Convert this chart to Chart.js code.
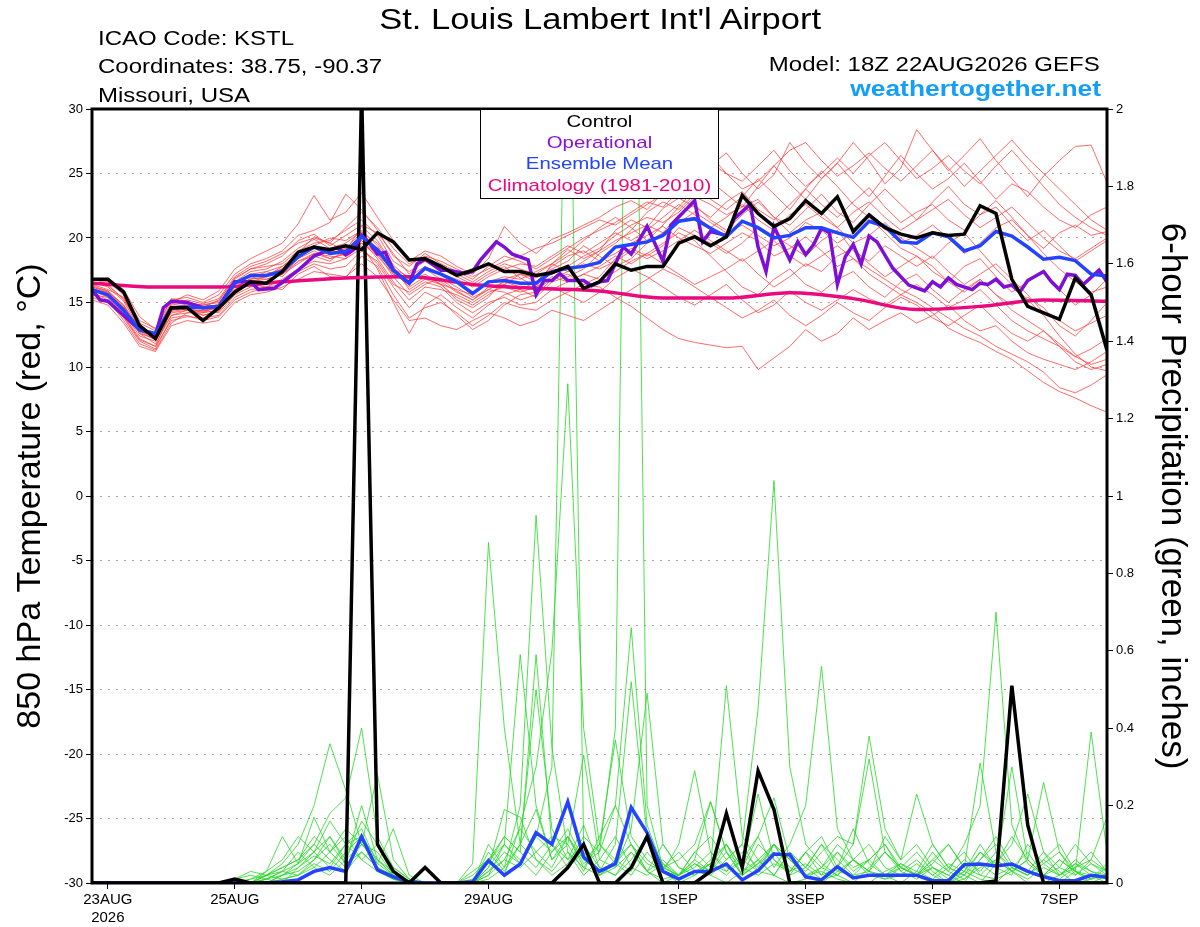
<html>
<head>
<meta charset="utf8">
<title>KSTL GEFS meteogram</title>
<script src="https://cdn.jsdelivr.net/npm/chart.js@4.4.1/dist/chart.umd.min.js"></script>
<style>
body{margin:0;background:#fff;font-family:'Liberation Sans',Arial,sans-serif}
#wrap{position:relative;width:1200px;height:927px;overflow:hidden}
#meteo{position:absolute;left:0;top:0}
.txt{position:absolute;white-space:nowrap;line-height:1;color:#000}
.left{transform-origin:0 0;transform:scaleX(1.2)}
.right{transform-origin:100% 0;transform:scaleX(1.2);text-align:right}
#legend{position:absolute;left:480px;top:109px;width:237px;height:88px;background:#fff;border:1.5px solid #000;z-index:2}
#legend div{position:absolute;left:0;width:237px;text-align:center;font-size:17px;line-height:17px;transform:scaleX(1.2)}
</style>
</head>
<body>
<div id="wrap">
  <canvas id="meteo" width="1200" height="927"></canvas>
  <div class="txt" style="left:0;width:1200px;top:4px;text-align:center;font-size:30px"><span style="display:inline-block;transform:scaleX(1.15)">St. Louis Lambert Int'l Airport</span></div>
  <div class="txt left" style="left:98px;top:28px;font-size:20px">ICAO Code: KSTL</div>
  <div class="txt left" style="left:98px;top:56px;font-size:20px">Coordinates: 38.75, -90.37</div>
  <div class="txt left" style="left:98px;top:85px;font-size:20px">Missouri, USA</div>
  <div class="txt right" style="right:100px;top:54px;font-size:20px">Model: 18Z 22AUG2026 GEFS</div>
  <div class="txt right" style="right:99px;top:78px;font-size:22px;font-weight:bold;color:#149ff5">weathertogether.net</div>
  <div id="legend">
    <div style="top:3px;color:#000">Control</div>
    <div style="top:24px;color:#8a12d8">Operational</div>
    <div style="top:45px;color:#2443ff">Ensemble Mean</div>
    <div style="top:67px;color:#e8097e">Climatology (1981-2010)</div>
  </div>
</div>
<script>
// x axis = forecast hour from 18Z 22AUG (6-hourly steps unless said otherwise)
var tickHours = [6, 54, 102, 150, 222, 270, 318, 366];
var tickLabels = [['23AUG', '2026'], '25AUG', '27AUG', '29AUG', '1SEP', '3SEP', '5SEP', '7SEP'];

// 850 hPa temperature, deg C
var ctrlTemp = [16.8,16.8,15.8,13.2,12.2,14.6,14.6,13.6,14.6,15.8,16.6,16.5,17.4,
  18.9,19.3,19.1,19.4,19.1,20.4,19.7,18.3,18.4,17.8,17.1,17.5,18.0,
  17.4,17.4,17.1,17.3,17.8,16.1,16.6,18.0,17.5,17.8,17.8,19.6,20.1,
  19.4,20.1,23.3,21.9,20.9,21.5,22.9,21.9,23.2,20.5,21.8,20.8,20.3,
  20.0,20.4,20.2,20.3,22.5,21.9,16.8,14.7,14.2,13.7,16.9,15.6,11.3];
var meanTemp = [16.0,15.6,14.4,12.9,12.6,14.6,14.65,14.6,14.7,16.5,17.1,17.1,17.4,
  18.55,19.3,18.8,18.95,20.1,19.1,17.5,16.5,17.65,17.2,16.6,15.7,16.6,
  16.7,16.5,16.5,17.4,17.65,17.8,18.1,19.3,19.5,19.7,20.2,21.3,21.5,
  20.75,20.1,21.3,20.8,20.0,20.2,20.8,20.8,20.4,20.05,21.3,20.9,19.7,
  19.6,20.4,20.1,19.0,19.4,20.5,20.15,19.3,18.35,18.5,18.25,17.2,17.05];
// operational run is 3-hourly, own hour list
var operHours = [0,3,6,12,18,24,27,30,36,42,48,54,60,63,69,78,84,90,93,96,99,102,105,108,111,114,120,123,126,
  132,135,141,144,147,153,156,159,165,168,171,174,177,180,186,189,192,195,201,204,210,216,219,228,231,234,240,
  243,249,252,255,258,264,267,270,273,276,279,282,285,288,291,294,297,303,309,315,318,321,324,327,333,336,339,
  342,345,348,351,354,360,363,366,369,372,375,381,384];
var operTemp = [16.0,15.2,15.1,14.0,12.9,12.5,14.6,15.1,15.0,14.6,14.7,16.6,16.6,16.0,16.1,17.5,18.6,19.1,19.25,18.7,19.1,20.2,19.6,18.75,18.9,17.5,16.5,18.0,18.35,
  17.5,17.5,17.25,17.4,18.3,19.7,19.3,18.75,18.3,15.6,16.7,16.7,17.25,16.7,16.7,16.3,16.6,16.7,19.3,18.75,20.9,18.2,21.0,22.9,19.7,20.5,20.2,
  21.5,22.6,19.3,17.4,20.9,18.3,19.7,18.7,19.5,20.75,20.4,16.4,18.55,19.5,18.0,20.15,19.7,17.65,16.35,15.9,16.6,16.2,16.9,16.4,16.0,16.5,16.4,
  16.8,16.2,16.35,15.8,16.7,17.4,16.6,16.0,17.2,17.1,16.4,17.5,16.6];
// climatology, daily values
var climHours = [0,24,48,72,96,120,144,168,192,216,240,264,288,312,336,360,384];
var climTemp = [16.5,16.2,16.2,16.6,16.9,17.0,16.4,16.1,15.9,15.35,15.35,15.75,15.3,14.45,14.7,15.2,15.1];

var tempM1 = [16.9,16.4,15.2,13.4,12.8,15.0,15.6,15.2,15.9,17.6,18.4,19.0,19.6,
  21.1,23.3,21.4,22.0,23.5,21.6,19.8,18.2,19.0,18.6,17.8,17.2,18.4,
  20.9,19.6,18.8,19.9,20.4,21.0,21.6,22.4,22.9,22.2,23.5,24.8,24.0,
  25.6,26.6,25.0,23.8,24.9,27.4,25.8,24.6,25.8,27.4,26.0,24.2,25.4,
  28.4,26.8,25.2,26.4,27.7,26.0,24.6,23.2,24.8,26.0,27.1,27.2,24.3];
var tempM2 = [15.4,15.0,13.8,12.0,11.4,13.8,14.0,13.6,13.9,15.2,15.8,16.2,16.0,
  17.2,17.8,17.0,16.9,18.6,17.8,15.6,13.8,14.6,15.0,14.2,13.2,14.0,
  15.0,14.6,14.4,15.2,15.8,16.4,16.2,15.4,14.7,13.8,12.9,12.2,11.9,
  11.7,11.5,11.6,9.8,10.7,11.6,12.9,12.0,12.6,13.8,12.9,13.6,14.2,
  13.4,14.0,14.8,13.6,12.8,13.2,12.0,11.1,10.6,10.2,9.8,10.4,11.2];
var tempM3 = [16.2,15.8,14.6,12.6,12.2,14.2,14.4,14.0,14.3,15.9,16.6,17.0,17.8,
  18.8,20.1,19.6,19.0,20.9,19.8,17.9,16.8,17.0,16.4,15.2,14.6,15.4,
  16.8,17.2,16.6,17.8,18.6,19.0,18.2,18.8,19.6,20.2,20.9,20.0,19.4,
  18.8,19.6,20.4,19.8,18.6,19.2,20.1,19.0,17.8,18.4,17.2,16.4,15.6,
  15.0,14.2,13.0,12.4,11.9,11.2,10.6,9.7,8.8,8.1,7.6,7.0,6.5];
var tempM4 = [16.7,16.9,16.0,13.9,12.9,15.3,15.1,14.6,15.2,16.8,17.6,18.0,18.6,
  19.8,20.3,19.4,20.2,21.0,20.4,18.8,17.2,18.4,17.6,17.0,16.4,17.2,
  17.8,16.9,16.2,18.0,19.1,18.4,19.0,20.6,21.4,20.8,22.3,23.1,22.4,
  21.6,22.8,23.6,22.2,21.4,22.6,23.8,22.6,21.6,22.8,23.9,22.4,21.2,
  22.0,22.6,21.4,20.6,21.8,22.9,21.6,20.2,19.2,20.4,21.0,20.2,20.5];
var tempM5 = [15.8,15.2,13.6,11.8,11.3,13.4,14.2,14.2,14.4,15.8,16.4,16.2,16.8,
  17.6,18.2,18.0,18.4,19.2,18.0,16.2,14.6,15.8,15.2,14.0,12.9,13.6,
  14.8,15.6,15.8,16.2,15.6,15.0,15.8,16.9,17.6,17.0,16.2,15.4,14.8,
  15.6,16.4,15.2,14.2,14.8,15.9,15.0,14.4,15.2,16.0,15.3,14.8,15.6,
  16.4,15.6,14.6,15.2,16.0,14.8,13.6,12.8,12.2,11.6,10.4,9.8,10.2];
var tempM6 = [16.4,16.0,15.4,13.2,12.4,14.8,15.0,14.8,15.0,16.6,17.4,17.6,18.2,
  19.2,19.9,19.2,19.6,20.5,19.0,17.2,16.4,17.6,16.8,15.9,15.2,16.2,
  16.4,16.0,16.6,17.2,17.8,18.6,19.2,20.2,21.0,21.6,21.2,22.0,23.2,
  22.6,21.8,22.4,23.0,21.6,21.0,22.2,23.4,22.0,21.2,22.6,23.8,22.6,
  21.4,22.8,24.0,22.6,21.8,22.4,21.0,19.8,20.6,19.4,18.2,19.0,19.8];
var tempM7 = [16.0,15.4,14.2,12.4,12.0,14.0,14.4,14.4,14.6,16.0,16.9,16.8,17.2,
  18.0,18.8,18.6,18.4,19.6,18.8,17.0,15.6,16.4,16.9,16.2,15.4,16.0,
  15.8,15.2,15.6,16.8,17.2,16.4,17.0,18.4,19.2,18.6,19.4,20.8,20.2,
  19.6,18.8,19.6,20.8,20.2,19.4,18.6,19.8,20.6,19.0,18.2,19.4,18.6,
  17.8,18.6,17.4,16.4,17.2,18.0,16.8,15.6,14.2,13.6,12.8,13.4,14.0];
var tempM8 = [15.6,15.4,14.0,12.2,11.6,14.4,14.6,14.0,14.4,16.2,16.8,17.4,17.0,
  18.2,18.6,18.2,19.2,20.4,19.6,17.8,16.0,16.8,16.4,15.4,14.8,15.6,
  16.4,17.2,16.9,17.6,18.2,19.4,18.6,17.8,18.4,19.6,20.4,21.8,22.6,
  21.4,20.6,21.8,22.8,21.6,20.4,21.4,22.0,20.8,19.6,20.2,21.2,20.0,
  19.2,18.4,19.6,20.4,19.0,17.6,16.4,15.2,14.0,12.4,11.0,10.0,9.7];
var tempM9 = [16.3,15.9,14.8,12.8,12.2,14.4,14.6,14.2,14.8,16.4,17.0,17.2,17.6,
  18.6,19.2,19.0,18.6,19.4,17.6,15.0,12.6,14.8,15.6,14.6,13.8,14.8,
  15.6,16.0,15.4,16.6,17.0,17.6,18.8,19.6,20.6,22.0,22.8,22.2,23.4,
  24.4,23.4,22.4,24.0,25.6,24.2,23.0,24.6,25.8,24.4,23.2,24.8,26.4,
  25.0,23.8,24.6,25.8,24.4,23.0,24.2,23.6,22.4,21.4,20.8,21.8,22.4];
var tempM10 = [16.6,16.2,15.1,13.0,12.6,14.6,14.9,14.8,15.1,16.9,17.6,17.8,18.0,
  19.0,19.6,19.8,20.6,21.4,20.2,18.2,17.4,18.2,17.9,17.2,16.6,17.4,
  18.0,17.6,17.2,18.0,18.8,19.8,20.8,21.6,20.8,19.8,21.0,22.4,23.8,
  23.0,22.2,23.2,24.6,23.4,22.2,23.8,25.2,24.0,22.6,21.6,20.4,19.2,
  18.6,17.8,16.6,15.8,16.8,15.6,14.4,13.6,12.8,11.6,10.8,10.2,10.6];
var tempM11 = [15.9,15.6,14.4,12.6,11.8,14.0,14.2,14.4,14.2,15.6,16.2,16.6,17.2,
  18.4,19.0,18.4,18.8,19.8,18.4,16.6,15.2,16.2,16.0,15.6,15.0,15.8,
  16.2,15.8,16.2,17.0,16.6,17.2,17.8,18.6,18.0,18.8,19.6,20.4,19.8,
  18.6,17.4,16.2,15.6,16.8,17.6,16.4,15.8,16.8,17.4,16.2,15.4,16.6,
  17.2,16.0,15.0,16.0,16.8,15.6,14.8,15.4,14.6,13.2,12.4,13.6,15.0];
var tempM12 = [16.8,16.6,15.6,13.6,13.0,15.2,15.4,15.0,15.6,17.2,18.0,18.4,19.0,
  20.2,20.6,21.2,23.4,22.2,20.6,18.6,17.8,18.8,18.0,17.4,16.8,17.8,
  18.6,18.2,17.6,18.4,19.2,20.0,20.6,21.2,22.0,22.8,22.4,23.6,24.6,
  25.8,25.0,24.4,25.6,26.8,25.2,24.0,25.0,26.2,25.0,26.4,27.4,26.0,
  24.6,25.4,26.4,25.2,24.2,25.6,26.8,25.4,24.0,22.6,21.6,20.8,20.2];
var tempM13 = [16.1,15.7,14.6,12.8,12.4,14.6,14.8,14.6,14.8,16.2,16.8,17.0,17.6,
  18.8,19.4,18.8,19.2,19.6,18.6,17.2,16.6,17.2,16.4,16.0,15.6,16.6,
  17.0,16.8,17.4,18.0,17.4,18.2,19.0,19.8,20.4,21.0,20.4,21.2,22.0,
  21.2,20.4,21.0,20.2,19.4,20.0,21.2,20.6,19.6,20.4,21.6,20.8,19.6,
  20.2,21.0,20.0,18.8,19.6,20.8,21.4,20.2,18.8,17.6,16.6,15.8,16.2];
var tempM14 = [15.6,15.1,13.9,12.1,11.6,13.6,13.9,13.8,14.0,15.4,16.0,16.2,16.4,
  17.4,18.0,17.6,17.8,19.0,18.2,16.4,15.8,16.6,16.2,15.0,14.2,15.0,
  15.4,14.8,15.0,16.0,16.6,17.2,16.8,17.4,18.2,18.8,18.0,17.2,16.4,
  17.0,17.6,18.4,17.2,16.2,17.0,18.0,17.4,18.6,19.2,18.0,17.0,17.8,
  18.6,17.4,16.6,17.8,18.4,17.0,15.8,16.6,17.4,16.0,14.8,15.6,16.8];
var tempM15 = [15.2,14.8,13.4,11.6,11.2,13.2,13.6,13.4,13.6,15.0,15.6,15.8,16.2,
  16.8,17.4,17.2,17.0,18.0,17.0,15.2,13.6,13.8,13.2,12.9,13.6,14.2,
  13.8,13.2,13.6,14.4,14.0,13.6,14.4,15.2,16.0,16.8,17.6,17.0,16.2,
  15.4,14.6,13.8,14.4,15.2,14.0,13.2,14.0,15.0,14.2,13.6,14.6,15.4,
  14.8,13.8,13.2,14.0,14.8,13.6,12.6,12.0,12.8,11.8,10.8,11.4,12.2];
var tempM16 = [16.5,16.3,15.3,13.1,12.5,14.9,15.2,14.9,15.3,17.0,17.8,18.2,18.8,
  19.6,20.0,19.6,20.8,22.0,20.8,19.2,18.0,18.6,18.2,17.6,17.0,17.6,
  18.2,18.6,19.2,19.6,20.2,20.8,21.4,21.0,21.8,22.6,23.4,24.2,25.2,
  26.4,25.0,23.8,24.4,25.6,26.8,27.4,26.0,24.8,25.6,26.6,25.4,24.4,
  25.6,26.8,25.4,24.0,25.2,26.4,27.6,26.2,25.0,23.8,22.6,21.4,20.6];
var tempM17 = [16.0,15.8,14.8,13.0,12.4,14.4,14.7,14.5,14.9,16.4,17.2,17.4,17.8,
  18.6,19.4,20.0,19.8,20.6,19.4,17.6,17.0,17.8,17.2,16.8,16.2,17.0,
  17.6,18.0,17.8,18.6,19.4,18.8,19.6,20.4,19.8,20.6,21.6,22.6,21.8,
  20.8,21.6,22.6,21.4,20.6,21.8,22.6,21.6,20.8,22.0,22.8,21.6,20.6,
  21.4,22.2,23.0,21.8,20.8,21.6,22.4,21.2,20.0,19.0,18.4,19.2,20.0];
var tempM18 = [16.2,15.9,14.7,12.7,12.1,14.3,14.5,14.3,14.6,16.0,16.6,16.8,17.2,
  18.2,18.8,18.4,18.8,19.8,18.8,17.4,16.2,17.0,16.6,15.8,15.2,16.0,
  16.6,16.2,16.0,16.8,17.4,18.0,17.6,18.2,19.0,18.4,19.0,19.8,20.6,
  19.8,19.0,18.2,19.0,19.8,18.6,17.8,18.6,19.4,18.4,17.6,16.8,16.0,
  15.4,14.6,13.8,13.0,12.4,11.6,11.0,10.4,9.6,8.4,8.0,8.6,9.4];

// 6-hour precipitation, inches
var ctrlPrecip = [0,0,0,0,0,0,0,0,0,0.01,0,0,0,
  0,0,0,0,2.05,0.10,0.03,0,0.04,0,0,0,0,
  0,0,0,0,0.04,0.10,0,0,0.04,0.12,0,0,0,
  0.03,0.18,0.04,0.29,0.19,0,0,0,0,0,0,0,0,
  0,0,0,0,0,0.005,0.51,0.15,0,0,0,0,0];
var meanPrecip = [0,0,0,0,0,0,0,0,0,0.002,0,0,0.003,
  0.008,0.03,0.04,0.03,0.12,0.034,0.016,0.003,0,0,0,0.003,0.058,
  0.02,0.049,0.13,0.10,0.21,0.067,0.03,0.05,0.195,0.13,0.03,0.01,0.03,
  0.03,0.049,0.008,0.032,0.075,0.073,0.016,0.008,0.042,0.013,0.02,0.02,0.02,
  0.02,0.006,0.006,0.047,0.049,0.044,0.049,0.03,0.016,0.006,0.006,0.02,0.015];

var precipM1 = [0,0,0,0,0,0,0,0,0,0,0,0,0.02,
  0.05,0.10,0.06,0.03,0.08,0.04,0.01,0,0,0,0,0,0.03,
  0.08,0.05,0.12,0.30,2.60,0.10,0.02,0.04,0.08,0.03,0,0.02,0.05,
  0.02,0,0.03,0.06,0.02,0,0.01,0.04,0.02,0,0,0.03,0.05,
  0.02,0,0,0.01,0.04,0.06,0.03,0,0,0.02,0.05,0.02,0];
var precipM2 = [0,0,0,0,0,0,0,0,0,0,0,0.01,0.03,
  0.02,0.06,0.12,0.05,0.20,0.06,0.02,0,0,0,0,0,0.01,
  0.04,0.10,0.06,0.02,0.05,0.12,0.08,0.40,3.30,0.20,0.04,0.02,0.06,
  0.03,0.08,0.02,0.05,0.10,0.04,0.02,0,0.03,0.06,0.02,0.01,0.04,
  0.08,0.03,0,0.02,0.06,0.10,0.04,0.02,0.05,0.08,0.03,0,0.02];
var precipM3 = [0,0,0,0,0,0,0,0,0,0,0.01,0.03,0.06,
  0.12,0.08,0.04,0.10,0.14,0.05,0.02,0,0,0,0,0,0.06,
  0.02,0.15,0.30,0.60,1.29,0.40,0.10,0.05,0.02,0.08,0.03,0,0.02,
  0.05,0.10,0.04,0.12,0.22,0.06,0.02,0.03,0.01,0,0.04,0.08,0.03,
  0.01,0.04,0.02,0,0.06,0.12,0.05,0.03,0.08,0.04,0.02,0.06,0.03];
var precipM4 = [0,0,0,0,0,0,0,0,0,0.01,0.02,0.01,0,
  0.04,0.08,0.16,0.10,0.12,0.03,0.01,0,0,0,0,0.05,0.88,
  0.40,0.10,0.19,0.06,0.12,0.05,0.08,0.20,0.10,0.03,0.01,0.02,0.06,
  0.21,0.08,0.02,0.10,0.06,0.03,0.08,0.02,0.04,0.14,0.05,0.02,0,
  0.03,0.10,0.04,0.02,0,0.05,0.12,0.06,0.02,0.01,0.04,0.08,0.03];
var precipM5 = [0,0,0,0,0,0,0,0,0,0,0,0.02,0.04,
  0.06,0.10,0.18,0.22,0.40,0.12,0.04,0.01,0,0,0,0,0.10,
  0.04,0.20,0.95,0.35,0.08,0.02,0.06,0.12,0.04,0.02,0.05,0.01,0.03,
  0.02,0.06,0.10,0.03,0.02,0.08,0.04,0.01,0.02,0.06,0.10,0.04,0.02,
  0.05,0.02,0,0.03,0.01,0,0.04,0.02,0.06,0.03,0,0.01,0.05];
var precipM6 = [0,0,0,0,0,0,0,0,0,0,0.01,0.02,0.01,
  0.02,0.05,0.03,0.08,0.12,0.06,0.03,0,0,0,0,0,0.04,
  0.10,0.06,0.02,0.08,0.12,0.04,0.02,0.06,0.10,0.05,0.03,0.02,0.08,
  0.12,0.06,0.10,0.45,1.04,0.30,0.10,0.05,0.02,0.06,0.03,0.01,0.02,
  0.02,0.05,0.10,0.04,0.02,0.01,0.03,0.06,0.02,0,0.03,0.02,0.01];
var precipM7 = [0,0,0,0,0,0,0,0,0,0,0,0,0.02,
  0.03,0.06,0.10,0.05,0.08,0.04,0.02,0,0,0,0,0.02,0.06,
  0.12,0.08,0.04,0.10,0.06,0.15,0.04,0.02,0.06,0.12,0.04,0.08,0.03,
  0.05,0.02,0.06,0.03,0.10,0.06,0.02,0.04,0.08,0.03,0.06,0.02,0.04,
  0.02,0.06,0.03,0.10,0.20,0.70,0.15,0.05,0.02,0.06,0.03,0.01,0.02];
var precipM8 = [0,0,0,0,0,0,0,0,0,0,0,0.01,0.03,
  0.08,0.04,0.02,0.06,0.10,0.08,0.02,0,0,0,0,0,0.02,
  0.10,0.59,0.20,0.06,0.10,0.03,0.12,0.20,0.66,0.15,0.04,0.02,0.05,
  0.03,0.10,0.02,0.05,0.08,0.02,0.04,0.10,0.06,0.02,0.03,0.08,0.04,
  0.02,0.04,0.01,0.03,0.08,0.04,0.02,0.10,0.05,0.02,0.06,0.03,0.01];
var precipM9 = [0,0,0,0,0,0,0,0,0,0,0,0.02,0.05,
  0.10,0.20,0.36,0.24,0.10,0.06,0.02,0,0,0,0,0.01,0.05,
  0.12,0.08,0.59,0.10,0.04,0.08,0.02,0.05,0.10,0.03,0.06,0.02,0.04,
  0.08,0.03,0.06,0.12,0.04,0.10,0.20,0.56,0.14,0.06,0.03,0.02,0.05,
  0.03,0.01,0.04,0.08,0.02,0.06,0.03,0.01,0.04,0.02,0.05,0.03,0.02];
var precipM10 = [0,0,0,0,0,0,0,0,0,0.01,0.03,0.02,0.04,
  0.06,0.12,0.08,0.14,0.10,0.28,0.06,0.01,0,0,0,0,0.03,
  0.06,0.14,0.08,0.04,0.12,0.06,0.03,0.10,0.52,0.12,0.05,0.02,0.08,
  0.04,0.51,0.12,0.06,0.02,0.08,0.04,0.10,0.03,0.02,0.06,0.10,0.04,
  0.02,0.08,0.03,0.01,0.05,0.02,0.04,0.08,0.02,0.06,0.03,0.01,0.04];
var precipM11 = [0,0,0,0,0,0,0,0,0,0,0,0.01,0.02,
  0.04,0.07,0.05,0.10,0.06,0.03,0.01,0,0,0,0,0,0.08,
  0.03,0.10,0.50,0.14,0.06,0.10,0.04,0.02,0.08,0.03,0.10,0.04,0.02,
  0.06,0.10,0.04,0.02,0.05,0.03,0.08,0.12,0.04,0.10,0.38,0.14,0.06,
  0.10,0.04,0.02,0.06,0.03,0.08,0.04,0.02,0.06,0.10,0.03,0.39,0.08];
var precipM12 = [0,0,0,0,0,0,0,0,0,0,0,0,0.01,
  0.02,0.04,0.08,0.12,0.06,0.10,0.03,0,0,0,0,0,0.02,
  0.06,0.04,0.08,0.12,0.10,0.33,0.06,0.04,0.14,0.49,0.10,0.04,0.02,
  0.05,0.03,0.08,0.04,0.10,0.06,0.03,0.08,0.12,0.10,0.32,0.08,0.04,
  0.02,0.06,0.10,0.04,0.31,0.08,0.03,0.06,0.02,0.04,0.10,0.05,0.02];
var precipM13 = [0,0,0,0,0,0,0,0,0,0,0,0.02,0.03,
  0.05,0.08,0.12,0.06,0.16,0.10,0.04,0.01,0,0,0,0.03,0.06,
  0.10,0.05,0.12,0.08,0.14,0.06,0.10,0.37,0.12,0.06,0.03,0.10,0.29,
  0.08,0.04,0.02,0.06,0.10,0.03,0.05,0.02,0.08,0.04,0.06,0.10,0.03,
  0.06,0.02,0.05,0.03,0.10,0.04,0.30,0.06,0.26,0.08,0.02,0.05,0.03];
var precipM14 = [0,0,0,0,0,0,0,0,0,0,0,0.03,0.12,
  0.05,0.17,0.08,0.04,0.10,0.05,0.14,0.02,0,0,0,0,0.04,
  0.19,0.17,0.06,0.03,0.08,0.04,0.10,0.06,0.03,0.12,0.04,0.06,0.10,
  0.21,0.08,0.04,0.23,0.06,0.02,0.08,0.04,0.10,0.06,0.03,0.12,0.06,
  0.23,0.10,0.04,0.02,0.08,0.05,0.10,0.23,0.08,0.02,0.04,0.06,0.17];

var tempMembers = [tempM1,tempM2,tempM3,tempM4,tempM5,tempM6,tempM7,tempM8,tempM9,
  tempM10,tempM11,tempM12,tempM13,tempM14,tempM15,tempM16,tempM17,tempM18];
var precipMembers = [precipM1,precipM2,precipM3,precipM4,precipM5,precipM6,precipM7,
  precipM8,precipM9,precipM10,precipM11,precipM12,precipM13,precipM14];

function sixHourly(vals){ return vals.map(function(v,i){ return {x:i*6, y:v}; }); }
function paired(hrs, vals){ return hrs.map(function(h,i){ return {x:h, y:vals[i]}; }); }
function thick(label, pts, color, axis){
  return {label:label, data:pts, borderColor:color, borderWidth:3.5, yAxisID:axis, tension:0};
}

Chart.defaults.font.family = "'Liberation Sans', Arial, sans-serif";
Chart.defaults.color = '#000';

// datasets listed front-most first
var sets = [];
sets.push(thick('Control', sixHourly(ctrlTemp), '#000000', 'y'));
sets.push(thick('Ensemble Mean', sixHourly(meanTemp), '#2443ff', 'y'));
sets.push(thick('Operational', paired(operHours, operTemp), '#7d0fd6', 'y'));
var clim = thick('Climatology', paired(climHours, climTemp), '#ea0a7e', 'y');
clim.cubicInterpolationMode = 'monotone';
sets.push(clim);
sets.push(thick('Control precip', sixHourly(ctrlPrecip), '#000000', 'y2'));
sets.push(thick('Mean precip', sixHourly(meanPrecip), '#2443ff', 'y2'));
tempMembers.forEach(function(m, k){
  sets.push({label:'T member '+(k+1), data:sixHourly(m), borderColor:'rgba(255,60,60,0.85)', borderWidth:0.9, yAxisID:'y'});
});
precipMembers.forEach(function(m, k){
  sets.push({label:'P member '+(k+1), data:sixHourly(m), borderColor:'rgba(40,215,40,0.9)', borderWidth:0.9, yAxisID:'y2'});
});

var framePlugin = {
  id: 'frame',
  afterDatasetsDraw: function(chart){
    var a = chart.chartArea, ctx = chart.ctx;
    ctx.save();
    ctx.lineWidth = 3;
    ctx.strokeStyle = '#000';
    ctx.strokeRect(a.left, a.top, a.right - a.left, a.bottom - a.top);
    ctx.restore();
  }
};

new Chart(document.getElementById('meteo'), {
  type: 'line',
  data: { datasets: sets },
  options: {
    responsive: false,
    devicePixelRatio: 1,
    animation: false,
    layout: { padding: { top: 109, left: 0, right: 0, bottom: 0 } },
    elements: { point: { radius: 0 }, line: { fill: false } },
    plugins: { legend: { display: false }, tooltip: { enabled: false } },
    scales: {
      x: {
        type: 'linear', min: 0, max: 384,
        afterBuildTicks: function(s){ s.ticks = tickHours.map(function(h){ return {value:h}; }); },
        afterFit: function(s){ s.height = 44; },
        ticks: {
          autoSkip: false, maxRotation: 0, padding: 2,
          font: { size: 15 },
          callback: function(v){ var i = tickHours.indexOf(v); return i < 0 ? '' : tickLabels[i]; }
        },
        grid: { drawOnChartArea: false, tickLength: 6, tickColor: '#000' },
        border: { display: false }
      },
      y: {
        position: 'left', min: -30, max: 30,
        afterFit: function(s){ s.width = 92; },
        ticks: { stepSize: 5, padding: 3, font: { size: 13 } },
        grid: { color: '#a8a8a8', lineWidth: 1, tickLength: 6, tickColor: '#000' },
        border: { display: false, dash: [2, 6] },
        title: { display: true, text: '850 hPa Temperature (red, °C)', font: { size: 34 }, padding: { top: 10 } }
      },
      y2: {
        position: 'right', min: 0, max: 2,
        afterFit: function(s){ s.width = 93; },
        ticks: { stepSize: 0.2, padding: 3, font: { size: 13 }, callback: function(v){ return String(+v.toFixed(1)); } },
        grid: { drawOnChartArea: false, tickLength: 6, tickColor: '#000' },
        border: { display: false },
        title: { display: true, text: '6-hour Precipitation (green, inches)', font: { size: 35 }, padding: { top: 7 } }
      }
    }
  },
  plugins: [framePlugin]
});
</script>
</body>
</html>
